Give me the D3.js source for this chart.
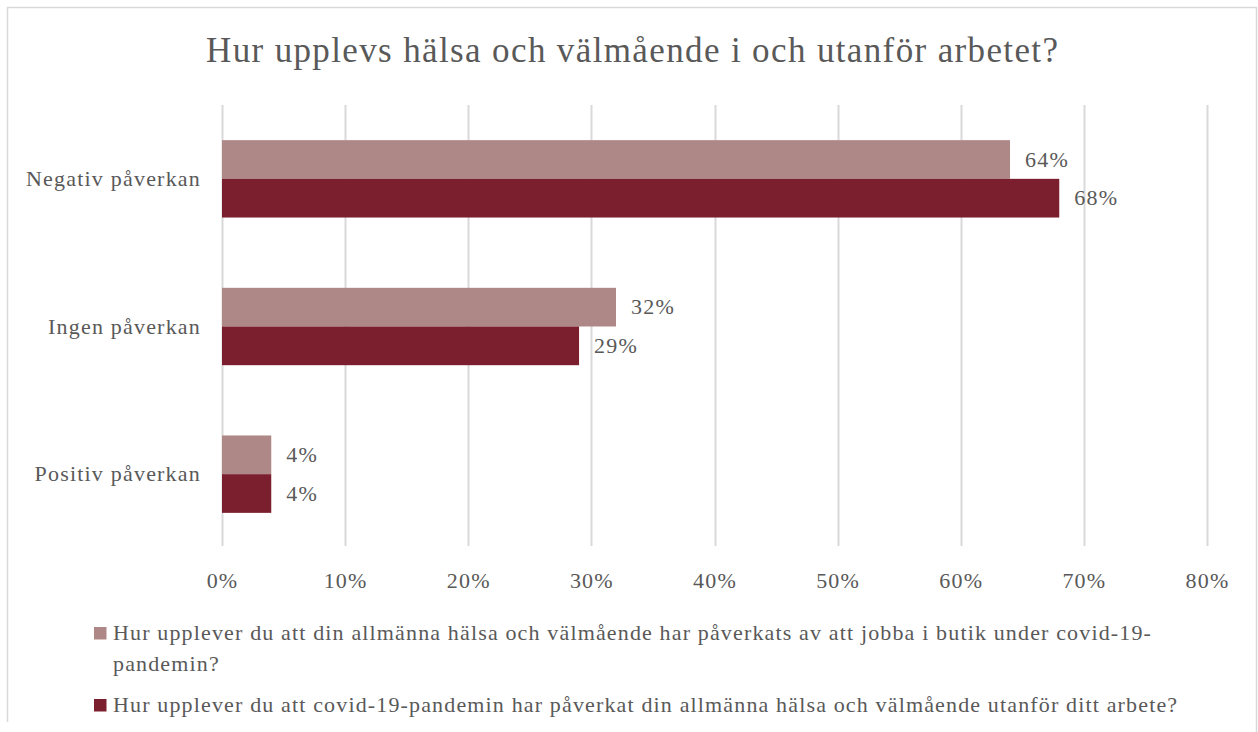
<!DOCTYPE html>
<html><head><meta charset="utf-8">
<script src="https://cdn.jsdelivr.net/npm/d3@7"></script>
<style>body{margin:0;background:#fff}svg{display:block}</style>
</head><body>
<svg id="chart" width="1258" height="732"></svg>
<script>
const title = "Hur upplevs hälsa och välmående i och utanför arbetet?";
const categories = ["Negativ påverkan", "Ingen påverkan", "Positiv påverkan"];
const seriesNames = [
  "Hur upplever du att din allmänna hälsa och välmående har påverkats av att jobba i butik under covid-19-pandemin?",
  "Hur upplever du att covid-19-pandemin har påverkat din allmänna hälsa och välmående utanför ditt arbete?"
];
const seriesA = [0.64, 0.32, 0.04];
const seriesB = [0.68, 0.29, 0.04];
const labelsA = ["64%", "32%", "4%"];
const labelsB = ["68%", "29%", "4%"];
const tickValues = [0, 0.1, 0.2, 0.3, 0.4, 0.5, 0.6, 0.7, 0.8];
const colors = ["#AE8886", "#7B1F2E"];

const FONT = "'Liberation Serif', 'Times New Roman', serif";
const TEXT = "#595959";
const LS = 1.2;
const svg = d3.select("#chart");

// border
svg.append("path").attr("d", "M7.5,722 V7.5 H1256.5 V732")
  .attr("fill", "none").attr("stroke", "#D9D9D9").attr("stroke-width", 1.5);

svg.append("text").attr("x", 206).attr("y", 62)
  .attr("font-family", FONT).attr("font-size", 35).attr("fill", TEXT)
  .attr("textLength", 852).attr("lengthAdjust", "spacing").text(title);

const x = d3.scaleLinear().domain([0, 0.8]).range([222, 1207]);
const y = d3.scaleBand().domain(categories).range([105, 548]).paddingInner(0.476).paddingOuter(0.238);

// gridlines
svg.append("g").selectAll("line").data(tickValues).join("line")
  .attr("x1", d => Math.round(x(d)) + 0.5).attr("x2", d => Math.round(x(d)) + 0.5)
  .attr("y1", 105).attr("y2", 546)
  .attr("stroke", "#D9D9D9").attr("stroke-width", 2);

// axis tick labels
const xAxis = d3.axisBottom(x).tickValues(tickValues).tickFormat(d3.format(".0%")).tickSize(0).tickPadding(0);
const gx = svg.append("g").attr("transform", "translate(0,588)").call(xAxis);
gx.select(".domain").remove();
gx.selectAll("text").attr("font-family", FONT).attr("font-size", 22).attr("fill", TEXT)
  .attr("letter-spacing", LS).attr("dy", 0);

// category labels
const yAxis = d3.axisLeft(y).tickSize(0).tickPadding(0);
const gy = svg.append("g").attr("transform", "translate(201,0)").call(yAxis);
gy.select(".domain").remove();
gy.selectAll("text").attr("font-family", FONT).attr("font-size", 22).attr("fill", TEXT)
  .attr("letter-spacing", LS).attr("dy", "0.33em");

const bh = y.bandwidth() / 2;
const series = [seriesA, seriesB];
const labels = [labelsA, labelsB];
series.forEach((vals, si) => {
  const g = svg.append("g");
  g.selectAll("rect").data(categories).join("rect")
    .attr("x", x(0)).attr("y", (c) => y(c) + si * bh)
    .attr("width", (c, i) => x(vals[i]) - x(0)).attr("height", bh)
    .attr("fill", colors[si]);
  g.selectAll("text").data(categories).join("text")
    .attr("x", (c, i) => x(vals[i]) + 15).attr("y", c => y(c) + si * bh + bh / 2)
    .attr("dy", "0.33em").attr("font-family", FONT).attr("font-size", 22).attr("fill", TEXT)
    .attr("letter-spacing", LS)
    .text((c, i) => labels[si][i]);
});

// legend
const legendFont = 22;
const legendLS = 1.15;
const maxW = 1090;
const ctx = document.createElement("canvas").getContext("2d");
ctx.font = legendFont + "px " + FONT;
function measure(s) { return ctx.measureText(s).width + legendLS * s.length; }
function wrap(str) {
  const parts = []; const re = /([^\s-]+-?)(\s*)/g; let m;
  while ((m = re.exec(str)) !== null) { if (!m[0]) break; parts.push({w: m[1], sp: m[2].length > 0}); }
  const lines = []; let cur = "";
  parts.forEach((p, i) => {
    const prevSp = i > 0 && parts[i-1].sp;
    const cand = cur + (cur && prevSp ? " " : "") + p.w;
    if (cur && measure(cand) > maxW) { lines.push(cur); cur = p.w; }
    else cur = cand;
  });
  if (cur) lines.push(cur);
  return lines;
}
const legendY = [640, 712];
seriesNames.forEach((name, i) => {
  const lines = wrap(name);
  svg.append("rect").attr("x", 94).attr("y", legendY[i] - 13).attr("width", 12.5).attr("height", 12.5).attr("fill", colors[i]);
  const t = svg.append("text").attr("x", 113).attr("y", legendY[i])
    .attr("font-family", FONT).attr("font-size", legendFont).attr("fill", TEXT).attr("letter-spacing", legendLS);
  lines.forEach((ln, k) => t.append("tspan").attr("x", 113).attr("dy", k ? 31 : 0).text(ln));
});
</script>
</body></html>
